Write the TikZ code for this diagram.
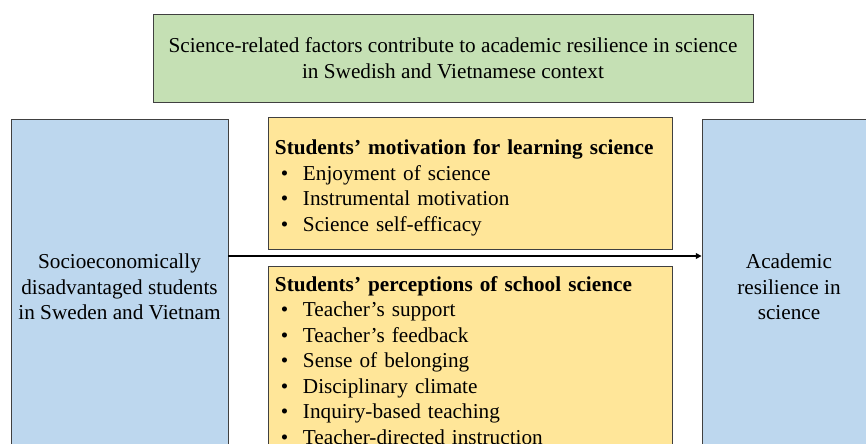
\documentclass[tikz,border=0pt]{standalone}
\usepackage{fontspec}
\setmainfont{Liberation Serif}
\usetikzlibrary{arrows.meta,positioning}
\definecolor{boxgreen}{HTML}{C5E0B4}
\definecolor{boxyellow}{HTML}{FFE699}
\definecolor{boxblue}{HTML}{BDD7EE}
\definecolor{boxline}{HTML}{404040}
\newcommand{\bul}[1]{\makebox[0.7cm][l]{\hspace{0.15cm}\textbullet}#1}

\begin{document}
\begin{tikzpicture}[
    x=0.025cm, y=-0.025cm,
    font=\fontsize{15.1}{18.1}\selectfont,
    box/.style={rectangle, draw=boxline, line width=0.6pt, inner sep=0pt, align=center},
    aimbox/.style={box, fill=boxgreen, minimum width=15cm, minimum height=2.2cm},
    sidebox/.style={box, fill=boxblue, minimum height=8.4cm},
    factbox/.style={box, fill=boxyellow, align=left, text width=9.75cm, inner xsep=0.175cm, minimum width=10.1cm},
    arr/.style={-{Triangle[length=4pt, width=4pt]}, line width=0.9pt}
  ]
    \useasboundingbox (0,0) rectangle (866,444);
    \clip (0,0) rectangle (866,444);
    \fill[white] (0,0) rectangle (866,444);
    \node[aimbox] (aim) at (453,58) {Science-related factors contribute to academic resilience in science\\in Swedish and Vietnamese context};
    \node[sidebox, minimum width=5.425cm] (sedis) at (119.5,287) {Socioeconomically\\disadvantaged students\\in Sweden and Vietnam};
    \node[sidebox, minimum width=4.35cm] (resil) at (789,287) {Academic\\resilience in\\science};
    \node[factbox, minimum height=3.3cm] (motiv) at (470,183) {\rule{0pt}{17.5pt}\textbf{Students’ motivation for learning science}\\
      \bul{Enjoyment of science}\\
      \bul{Instrumental motivation}\\
      \bul{Science self-efficacy}};
    \node[factbox, minimum height=4.725cm] (percep) at (470,360.5) {\textbf{Students’ perceptions of school science}\\
      \bul{Teacher’s support}\\
      \bul{Teacher’s feedback}\\
      \bul{Sense of belonging}\\
      \bul{Disciplinary climate}\\
      \bul{Inquiry-based teaching}\\
      \bul{Teacher-directed instruction}};
    \coordinate (arry) at (0,256);
    \draw[arr] (sedis.east |- arry) -- (resil.west |- arry);
\end{tikzpicture}
\end{document}
